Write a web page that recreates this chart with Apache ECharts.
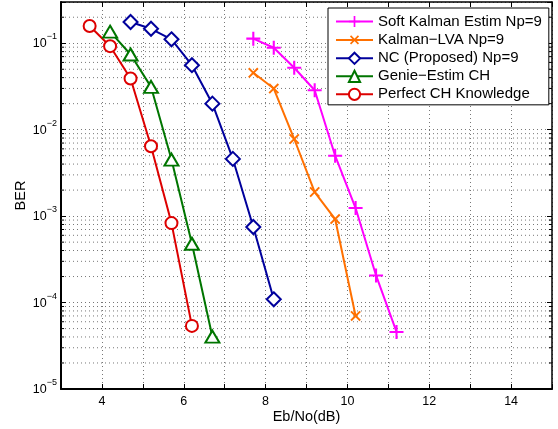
<!DOCTYPE html>
<html><head><meta charset="utf-8">
<script src="https://cdn.jsdelivr.net/npm/echarts@6/dist/echarts.min.js"></script>
<style>html,body{margin:0;padding:0;background:#fff}#c{width:558px;height:429px}</style>
</head><body><div id="c"></div>
<script>
// ---- data ----
const seriesNames = ['Soft Kalman Estim Np=9', 'Kalman\u2212LVA Np=9', 'NC (Proposed) Np=9', 'Genie\u2212Estim CH', 'Perfect CH Knowledge'];
const softX  = [7.7, 8.2, 8.7, 9.2, 9.7, 10.2, 10.7, 11.2];
const softY  = [0.113, 0.0887, 0.052, 0.0286, 0.0050, 0.00124, 2.06e-4, 4.57e-5];
const lvaX   = [7.7, 8.2, 8.7, 9.2, 9.7, 10.2];
const lvaY   = [0.0455, 0.0299, 0.0078, 0.0019, 9.25e-4, 7.0e-5];
const ncX    = [4.7, 5.2, 5.7, 6.2, 6.7, 7.2, 7.7, 8.2];
const ncY    = [0.176, 0.147, 0.111, 0.0557, 0.0200, 0.00459, 7.48e-4, 1.09e-4];
const genieX = [4.2, 4.7, 5.2, 5.7, 6.2, 6.7];
const genieY = [0.136, 0.0741, 0.0313, 0.00451, 4.79e-4, 4.03e-5];
const perfX  = [3.7, 4.2, 4.7, 5.2, 5.7, 6.2];
const perfY  = [0.158, 0.0925, 0.0391, 0.00643, 8.3e-4, 5.37e-5];
const xTickLabels = [4, 6, 8, 10, 12, 14];
const yDecades = [-5, -4, -3, -2, -1];

// ---- layout / style ----
const FONT = '"Liberation Sans", Arial, Helvetica, sans-serif';
const X_MIN = 3, X_MAX = 15, Y_MIN = 1e-5, Y_MAX = 0.3;
const colors = ['#ff00ff', '#ff7000', '#00009c', '#007500', '#dd0000'];
const PLUS = 'path://M-1.5,-10L1.5,-10L1.5,10L-1.5,10Z M-10,-1.5L10,-1.5L10,1.5L-10,1.5Z';
const gridColor = '#777';

function zip(xs, ys) { return xs.map((x, i) => [x, ys[i]]); }

const minorVals = [];
yDecades.forEach(d => { for (let m = 2; m <= 9; m++) { const v = m * Math.pow(10, d); if (v < Y_MAX * 0.999) minorVals.push(v); } });

// helper (structural) series: minor grid lines and minor ticks on left/right frame
const helperSeries = [];
const seg = (pts, style) => ({
  type: 'line', data: pts, symbol: 'none', showSymbol: false, silent: true, z: 1,
  lineStyle: style, emphasis: { disabled: true }, tooltip: { show: false }
});
minorVals.forEach(v => {
  helperSeries.push(seg([[X_MIN, v], [X_MAX, v]], { color: gridColor, type: [1, 3], width: 1 }));
  helperSeries.push(seg([[X_MIN, v], [X_MIN + 0.075, v]], { color: '#000', type: 'solid', width: 1 }));
  helperSeries.push(seg([[X_MAX - 0.075, v], [X_MAX, v]], { color: '#000', type: 'solid', width: 1 }));
});

function isPow10(v) { const l = Math.log10(v); return Math.abs(l - Math.round(l)) < 1e-6; }

const yLabel = {
  show: true, margin: 4, fontFamily: FONT, color: '#000',
  formatter: v => isPow10(v) ? '{a|10}{b|\u2212' + Math.abs(Math.round(Math.log10(v))) + '}' : '',
  rich: {
    a: { fontSize: 12.5, fontFamily: FONT, color: '#000', lineHeight: 14, verticalAlign: 'bottom' },
    b: { fontSize: 9, fontFamily: FONT, color: '#000', lineHeight: 9, padding: [0, 0, 9, 0], verticalAlign: 'bottom' }
  }
};

const mk = (name, xs, ys, color, symbol, size, extra) => Object.assign({
  name, type: 'line', data: zip(xs, ys), symbol, symbolSize: size, showSymbol: true,
  lineStyle: { width: 2, color }, itemStyle: { color, borderColor: color, borderWidth: 2 },
  emphasis: { disabled: true }, z: 3
}, extra || {});

const option = {
  animation: false,
  backgroundColor: '#fff',
  grid: { left: 61, top: 2, right: 6, bottom: 40, containLabel: false, outerBoundsMode: 'none' },
  legend: {
    data: seriesNames, orient: 'vertical', left: 328, top: 8,
    padding: [6, 7, 3, 7], itemWidth: 37, itemHeight: 14, itemGap: 3,
    backgroundColor: '#fff', borderColor: '#000', borderWidth: 1,
    textStyle: { fontFamily: FONT, fontSize: 15, color: '#000', lineHeight: 14 },
    selectedMode: false
  },
  xAxis: [{
    type: 'value', min: X_MIN, max: X_MAX, interval: 1, position: 'bottom',
    name: 'Eb/No(dB)', nameLocation: 'middle', nameGap: 20, nameMoveOverlap: false,
    nameTextStyle: { fontFamily: FONT, fontSize: 14.5, color: '#000' },
    axisLine: { lineStyle: { color: '#000', width: 2 } },
    axisTick: { show: true, inside: true, length: 5, lineStyle: { color: '#000', width: 1 }, interval: (i, v) => xTickLabels.indexOf(v) >= 0 },
    axisLabel: { margin: 6, fontFamily: FONT, fontSize: 12.5, color: '#000', formatter: v => xTickLabels.indexOf(v) >= 0 ? String(v) : '' },
    splitLine: { show: true, interval: (i, v) => xTickLabels.indexOf(v) >= 0, lineStyle: { color: gridColor, type: [1, 3], width: 1 } }
  }, {
    type: 'value', min: X_MIN, max: X_MAX, interval: 1, position: 'top',
    axisLine: { show: true, onZero: false, lineStyle: { color: '#000', width: 1.5 } },
    axisTick: { show: true, inside: true, length: 5, lineStyle: { color: '#000' }, interval: (i, v) => xTickLabels.indexOf(v) >= 0 },
    axisLabel: { show: false }, splitLine: { show: false }
  }],
  yAxis: [{
    type: 'log', logBase: 10, min: Y_MIN, max: Y_MAX, position: 'left',
    name: 'BER', nameLocation: 'middle', nameGap: 33, nameRotate: 90, nameMoveOverlap: false,
    nameTextStyle: { fontFamily: FONT, fontSize: 14.5, color: '#000' },
    axisLine: { onZero: false, lineStyle: { color: '#000', width: 2 } },
    axisTick: { show: true, inside: true, length: 5, lineStyle: { color: '#000' } },
    axisLabel: yLabel,
    splitLine: { show: true, lineStyle: { color: gridColor, type: [1, 3], width: 1 } }
  }, {
    type: 'log', logBase: 10, min: Y_MIN, max: Y_MAX, position: 'right',
    axisLine: { show: true, onZero: false, lineStyle: { color: '#000', width: 1.5 } },
    axisTick: { show: true, inside: true, length: 5, lineStyle: { color: '#000' } },
    axisLabel: { show: false }, splitLine: { show: false }
  }],
  series: helperSeries.concat([
    mk(seriesNames[0], softX, softY, colors[0], PLUS, 14, { itemStyle: { color: colors[0], borderWidth: 0 } }),
    mk(seriesNames[1], lvaX, lvaY, colors[1], PLUS, 13, { symbolRotate: 45, itemStyle: { color: colors[1], borderWidth: 0 } }),
    mk(seriesNames[2], ncX, ncY, colors[2], 'emptyDiamond', 14),
    mk(seriesNames[3], genieX, genieY, colors[3], 'emptyTriangle', [14, 12]),
    mk(seriesNames[4], perfX, perfY, colors[4], 'emptyCircle', 12)
  ])
};

const chart = echarts.init(document.getElementById('c'), null, { renderer: 'canvas' });
chart.setOption(option);
</script>
</body></html>
